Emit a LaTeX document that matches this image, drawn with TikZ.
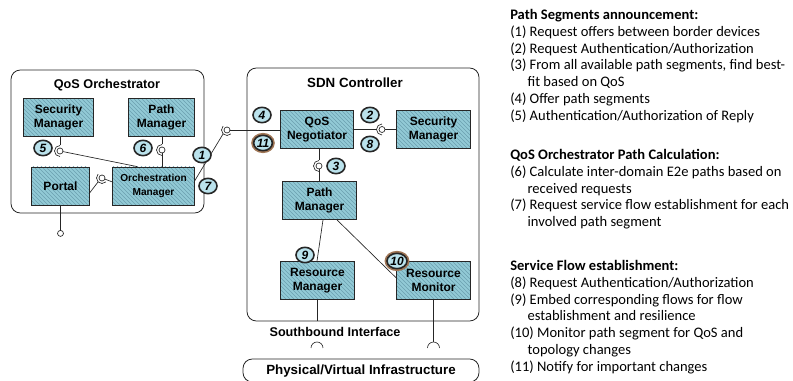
\documentclass[tikz,border=0pt]{standalone}
\usepackage{fontspec}
\setmainfont{Liberation Sans}
\newfontfamily\legendfont{Carlito}
\usetikzlibrary{arrows.meta, calc}
\usetikzlibrary{patterns, shapes.geometric}
\definecolor{myteal}{RGB}{146,202,214}
\definecolor{myhatch}{RGB}{108,160,176}
\definecolor{mycircle}{RGB}{186,226,236}
\definecolor{mybrown}{RGB}{160,118,86}
\tikzstyle{comp} = [draw=black!85, line width=0.6pt, preaction={fill=myteal},
    pattern=north west lines, pattern color=myhatch, minimum width=55pt,
    minimum height=28.5pt, inner sep=1pt, align=center,
    font=\bfseries\fontsize{9}{10}\selectfont]
\tikzstyle{bigbox} = [draw=black!85, line width=0.6pt, rounded corners=7pt]
\tikzstyle{title} = [font=\bfseries\fontsize{9.5}{11}\selectfont]
\tikzstyle{num} = [ellipse, draw=black!85, line width=1.2pt, fill=mycircle,
    minimum width=13.5pt, minimum height=11.5pt, inner sep=0.3pt,
    font=\bfseries\itshape\fontsize{9}{9}\selectfont]
\tikzstyle{numtwo} = [num, preaction={draw=mybrown, line width=3.6pt}]
\tikzstyle{wire} = [line width=0.5pt, draw=black!85]
\tikzstyle{legend} = [anchor=north west, inner sep=0pt, align=left,
    font=\legendfont\fontsize{10.9}{12.6}\selectfont]
% ball and socket: position, start angle of the cup
\newcommand{\ballsocket}[2]{%
    \draw[wire] ($#1+(#2:5.5)$) arc (#2:#2+180:5.5);
    \draw[wire, fill=white] #1 circle (3);
}

\begin{document}
\begin{tikzpicture}[x=0.75pt, y=0.75pt]
\useasboundingbox (0,0) rectangle (793,381);

    % 1. QoS Orchestrator
    \draw[bigbox] (11,168) rectangle (204,311);
    \node[title] (orchtitle) at (107,296) {QoS Orchestrator};
    \node[comp, minimum width=52pt] (osec) at (58.5,263.5) {Security\\Manager};
    \node[comp, minimum width=50pt] (opath) at (161.5,263.5) {Path\\Manager};
    \node[comp, minimum width=43pt] (portal) at (60.5,195) {Portal};
    \node[comp, minimum width=61pt, font=\bfseries\fontsize{7.6}{10}\selectfont]
        (orchmgr) at (153.5,195) {Orchestration\\Manager};

    % 2. SDN Controller
    \draw[bigbox] (247,60) rectangle (479,313);
    \node[title, font=\bfseries\fontsize{10}{12}\selectfont] (sdntitle) at (355,298) {SDN Controller};
    \node[comp] (qneg) at (317,251.5) {QoS\\Negotiator};
    \node[comp] (ssec) at (433.5,251.5) {Security\\Manager};
    \node[comp] (spath) at (319.5,180.5) {Path\\Manager};
    \node[comp] (resmgr) at (317.5,100.5) {Resource\\Manager};
    \node[comp] (resmon) at (433.5,100.5) {Resource\\Monitor};

    % 3. Southbound and infrastructure
    \node[title] (sbi) at (335,49) {Southbound Interface};
    \draw[bigbox] (243,-1) rectangle (479,22);
    \node[title, font=\bfseries\fontsize{10}{12}\selectfont] (infra) at (361,10) {Physical/Virtual Infrastructure};

    % 4. Connections
    \coordinate (s1) at (60,230);
    \coordinate (s2) at (162,231);
    \coordinate (s3) at (102,203);
    \coordinate (s4) at (227,251);
    \coordinate (s5) at (382,251.5);
    \coordinate (s6) at (319,215);
    \coordinate (sbl) at (317,33);
    \coordinate (sbr) at (433.5,33);
    \draw[wire] (osec.south -| s1) -- ($(s1)+(0,5.5)$);
    \draw[wire] (s1) -- ($(orchmgr.north west)!0.3!(orchmgr.north east)$);
    \draw[wire] (opath.south -| s2) -- ($(s2)+(0,5.5)$);
    \draw[wire] (s2) -- (orchmgr.north -| s2);
    \draw[wire] ($(portal.east)+(0,-7)$) -- ($(s3)+(225:5.5)$);
    \draw[wire] (s3) -- ($(orchmgr.west)+(0,4)$);
    \draw[wire] ($(orchmgr.east)+(0,5)$) -- ($(s4)+(225:5.5)$);
    \draw[wire] (s4) -- (qneg.west |- s4);
    \draw[wire] (qneg.east |- s5) -- ($(s5)+(180:5.5)$);
    \draw[wire] (s5) -- (ssec.west |- s5);
    \draw[wire] (qneg.south -| s6) -- ($(s6)+(0,5.5)$);
    \draw[wire] (s6) -- (spath.north -| s6);
    \draw[wire] ($(spath.south)+(3.5,0)$) -- ($(resmgr.north)+(-0.5,0)$);
    \draw[wire] ($(spath.south)+(17.5,0)$) -- ($(resmon.north west)+(0,-17)$);
    \draw[wire] (resmgr.south) -- ++(0,-21.5);
    \draw[wire] (resmon.south) -- ($(sbr)+(0,6)$);
    \draw[wire] ($(sbl)+(6,0)$) arc (0:180:6);
    \draw[wire] ($(sbr)+(6,0)$) arc (0:180:6);
    \draw[wire] (portal.south) -- ++(0,-25);
    \draw[wire, fill=white] ($(portal.south)+(0,-28)$) circle (3);
    \ballsocket{(s1)}{90}
    \ballsocket{(s2)}{90}
    \ballsocket{(s3)}{135}
    \ballsocket{(s4)}{135}
    \ballsocket{(s5)}{90}
    \ballsocket{(s6)}{90}

    % 5. Step numbers
    \node[num] (n1) at (202,226) {1};
    \node[num] (n2) at (370,266) {2};
    \node[num] (n3) at (336,215) {3};
    \node[num] (n4) at (262,266) {4};
    \node[num] (n5) at (43,233) {5};
    \node[num] (n6) at (143,233) {6};
    \node[num] (n7) at (208,195) {7};
    \node[num] (n8) at (370,237) {8};
    \node[num] (n9) at (305,126) {9};
    \node[numtwo] (n10) at (397,120) {10};
    \node[numtwo] (n11) at (263,238) {11};

    % 6. Legend
    \node[legend] (segann) at (510,372) {\textbf{Path Segments announcement:}\\
        (1) Request offers between border devices\\
        (2) Request Authentication/Authorization\\
        (3) From all available path segments, find best-\\
        \hspace*{13pt}fit based on QoS\\
        (4) Offer path segments\\
        (5) Authentication/Authorization of Reply};
    \node[legend] (pathcalc) at (510,232) {\textbf{QoS Orchestrator Path Calculation:}\\
        (6) Calculate inter-domain E2e paths based on\\
        \hspace*{13pt}received requests\\
        (7) Request service flow establishment for each\\
        \hspace*{13pt}involved path segment};
    \node[legend] (flowest) at (510,121) {\textbf{Service Flow establishment:}\\
        (8) Request Authentication/Authorization\\
        (9) Embed corresponding flows for flow\\
        \hspace*{13pt}establishment and resilience\\
        (10) Monitor path segment for QoS and\\
        \hspace*{13pt}topology changes\\
        (11) Notify for important changes};

\end{tikzpicture}
\end{document}
